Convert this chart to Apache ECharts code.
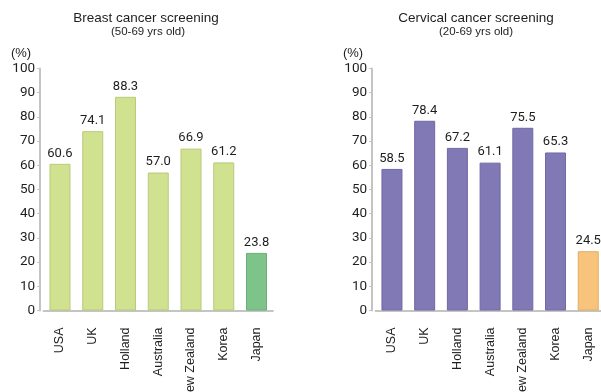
<!DOCTYPE html>
<html>
<head>
<meta charset="utf-8">
<script src="https://cdn.jsdelivr.net/npm/echarts@6/dist/echarts.min.js"></script>
<style>
  html, body { margin: 0; padding: 0; background: #fff; }
  #chart { width: 601px; height: 392px; }
</style>
</head>
<body>
<div id="chart"></div>
<script>
// Screening uptake by country (%)
const countries = ['USA', 'UK', 'Holland', 'Australia', 'New Zealand', 'Korea', 'Japan'];
const breastValues = [60.6, 74.1, 88.3, 57.0, 66.9, 61.2, 23.8];
const cervicalValues = [58.5, 78.4, 67.2, 61.1, 75.5, 65.3, 24.5];
const yTicks = { min: 0, max: 100, interval: 10 };

const textColor = '#1e1e1e';
const axisGray = '#c4c4c4';
const numFont = 'Roboto';
const labelFont = 'Liberation Sans';

const breastColors = { base: '#d0e18f', baseBorder: '#b9c97c', highlight: '#7cc48a', highlightBorder: '#6aae78' };
const cervicalColors = { base: '#8179b5', baseBorder: '#7069a3', highlight: '#f8c47c', highlightBorder: '#e2ad66' };

function barData(values, colors) {
  return values.map((v, i) => {
    const hi = countries[i] === 'Japan';
    return {
      value: v,
      itemStyle: {
        color: hi ? colors.highlight : colors.base,
        borderColor: hi ? colors.highlightBorder : colors.baseBorder,
        borderWidth: 1
      }
    };
  });
}

function xAxisFor(gridIndex) {
  return {
    type: 'category',
    gridIndex: gridIndex,
    data: countries,
    axisLine: { lineStyle: { color: axisGray, width: 2 } },
    axisTick: { show: false },
    axisLabel: {
      rotate: 90,
      interval: 0,
      margin: 17,
      color: textColor,
      fontFamily: labelFont,
      fontSize: 12.5
    }
  };
}

function yAxisFor(gridIndex) {
  return {
    type: 'value',
    gridIndex: gridIndex,
    min: yTicks.min,
    max: yTicks.max,
    interval: yTicks.interval,
    offset: 3.5,
    splitLine: { show: false },
    axisLine: { show: true, lineStyle: { color: axisGray, width: 2 } },
    axisTick: { show: true, length: 3, lineStyle: { color: axisGray, width: 1 } },
    axisLabel: {
      margin: 5,
      color: textColor,
      fontFamily: numFont,
      fontSize: 13.5
    }
  };
}

function seriesFor(index, values, colors) {
  return {
    type: 'bar',
    xAxisIndex: index,
    yAxisIndex: index,
    barWidth: 21,
    data: barData(values, colors),
    label: {
      show: true,
      position: 'top',
      distance: 4,
      color: textColor,
      fontFamily: numFont,
      fontSize: 13,
      formatter: p => p.value.toFixed(1)
    }
  };
}

function titleLine(text, x, y, size) {
  return {
    text: text,
    left: x,
    top: y,
    textAlign: 'center',
    textStyle: { fontFamily: labelFont, fontSize: size, fontWeight: 'normal', color: textColor },
    padding: 0
  };
}

const chart = echarts.init(document.getElementById('chart'), null, { renderer: 'canvas' });
chart.setOption({
  animation: false,
  backgroundColor: '#fff',
  title: [
    titleLine('Breast cancer screening', 146, 11, 13.5),
    titleLine('(50-69 yrs old)', 148, 26, 11.5),
    titleLine('Cervical cancer screening', 476, 11, 13.5),
    titleLine('(20-69 yrs old)', 476, 26, 11.5),
    titleLine('(%)', 21, 47, 13),
    titleLine('(%)', 353, 47, 13)
  ],
  grid: [
    { left: 43.6, top: 68.5, width: 229.3, height: 242, outerBoundsMode: 'none' },
    { left: 375.6, top: 68.5, width: 229, height: 242, outerBoundsMode: 'none' }
  ],
  xAxis: [xAxisFor(0), xAxisFor(1)],
  yAxis: [yAxisFor(0), yAxisFor(1)],
  series: [
    seriesFor(0, breastValues, breastColors),
    seriesFor(1, cervicalValues, cervicalColors)
  ]
});
</script>
</body>
</html>
